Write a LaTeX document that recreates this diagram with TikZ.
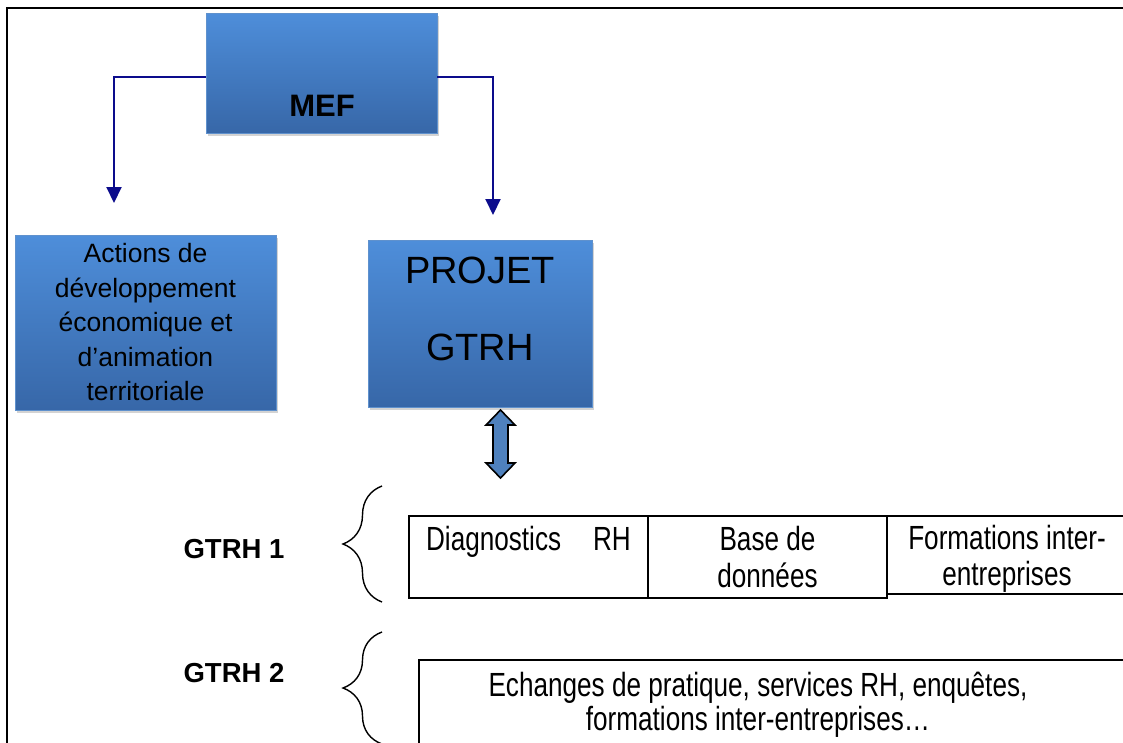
\documentclass[tikz,border=0pt]{standalone}
\usepackage{fontspec}
\setmainfont{Liberation Sans}
\newfontfamily\narrowfont[FakeStretch=0.78]{Liberation Sans}
\usepackage{tikz}
\usetikzlibrary{arrows.meta}
\usetikzlibrary{shadows}
\usetikzlibrary{decorations.pathreplacing}

\definecolor{boxtop}{RGB}{78,142,218}
\definecolor{boxbottom}{RGB}{55,103,168}
\definecolor{boxedge}{RGB}{95,145,205}
\definecolor{linknavy}{RGB}{12,12,140}
\definecolor{dblblue}{RGB}{79,129,189}

\tikzset{
  bluebox/.style={rectangle, top color=boxtop, bottom color=boxbottom, draw=boxedge,
    line width=0.8pt, drop shadow={shadow xshift=2pt, shadow yshift=-3pt, opacity=0.35}},
  cell/.style={rectangle, draw, line width=2pt, inner sep=0pt},
  navyarrow/.style={draw=linknavy, line width=2pt, -{Triangle[width=15pt,length=16pt]}},
  bracket/.style={decorate, decoration={brace, amplitude=39pt}, line width=1.4pt},
  rowtext/.style={align=center, font=\narrowfont\fontsize{33.5}{36.5}\selectfont},
}

\begin{document}
\begin{tikzpicture}[x=1pt,y=-1pt]
    \useasboundingbox (0,0) rectangle (1123,742);

    % Rahmen
    \draw[line width=2.2pt] (7,746) -- (7,8) -- (1127,8);

    % Kopf MEF
    \node[bluebox, minimum width=231, minimum height=120] (mef) at (321.5,73) {};
    \node[font=\bfseries\fontsize{31}{31}\selectfont] (meftext) at (322,106) {MEF};

    % Blaue Kaesten
    \node[bluebox, minimum width=261, minimum height=175, align=center,
          font=\fontsize{26.5}{34.5}\selectfont] (actions) at (145.5,322.5)
          {Actions de\\développement\\économique et\\d’animation\\territoriale};
    \node[bluebox, minimum width=224, minimum height=167] (projet) at (480,323.5) {};
    \node[align=center, font=\fontsize{38}{77}\selectfont] (projettext) at (480,308.5) {PROJET\\GTRH};

    % Pfeile
    \coordinate (tipL) at (114,203);
    \coordinate (tipR) at (493,215);
    \draw[navyarrow] (mef.west |- 0,77) -| (tipL);
    \draw[navyarrow] (mef.east |- 0,77) -| (tipR);

    % Doppelpfeil
    \coordinate (link) at (500.5,444);
    \draw[fill=dblblue, line width=1.6pt, shift={(link)}]
        (0,-34) -- (14.5,-19) -- (7.5,-19) -- (7.5,19) -- (14.5,19) -- (0,34)
        -- (-14.5,19) -- (-7.5,19) -- (-7.5,-19) -- (-14.5,-19) -- cycle;

    % GTRH 1
    \node[font=\bfseries\fontsize{27.5}{27.5}\selectfont] (gtrhone) at (234,549) {GTRH 1};
    \coordinate (braceonelo) at (382,602);
    \coordinate (braceonehi) at (382,486);
    \draw[bracket] (braceonelo) -- (braceonehi);

    \node[cell, rowtext, minimum width=239, minimum height=82] (diag) at (528.5,557)
        {Diagnostics\hspace{32pt}RH\\\mbox{}};
    \node[cell, rowtext, minimum width=239, minimum height=82] (base) at (767.5,557)
        {Base de\\données};
    \node[cell, minimum width=240, minimum height=78] (forma) at (1007,555) {};
    \node[rowtext] (formatext) at (1007,559) {Formations inter-\\entreprises};

    % GTRH 2
    \node[font=\bfseries\fontsize{27.5}{27.5}\selectfont] (gtrhtwo) at (234,673) {GTRH 2};
    \coordinate (bracetwolo) at (382,744);
    \coordinate (bracetwohi) at (382,632);
    \draw[bracket] (bracetwolo) -- (bracetwohi);

    \node[cell, minimum width=720, minimum height=86, anchor=north west] (gtrhtwobox) at (418,659) {};
    \node[rowtext, font=\narrowfont\fontsize{33.5}{34}\selectfont] (gtrhtwotext) at (758,705)
        {Echanges de pratique, services RH, enquêtes,\\formations inter-entreprises…};
\end{tikzpicture}
\end{document}
